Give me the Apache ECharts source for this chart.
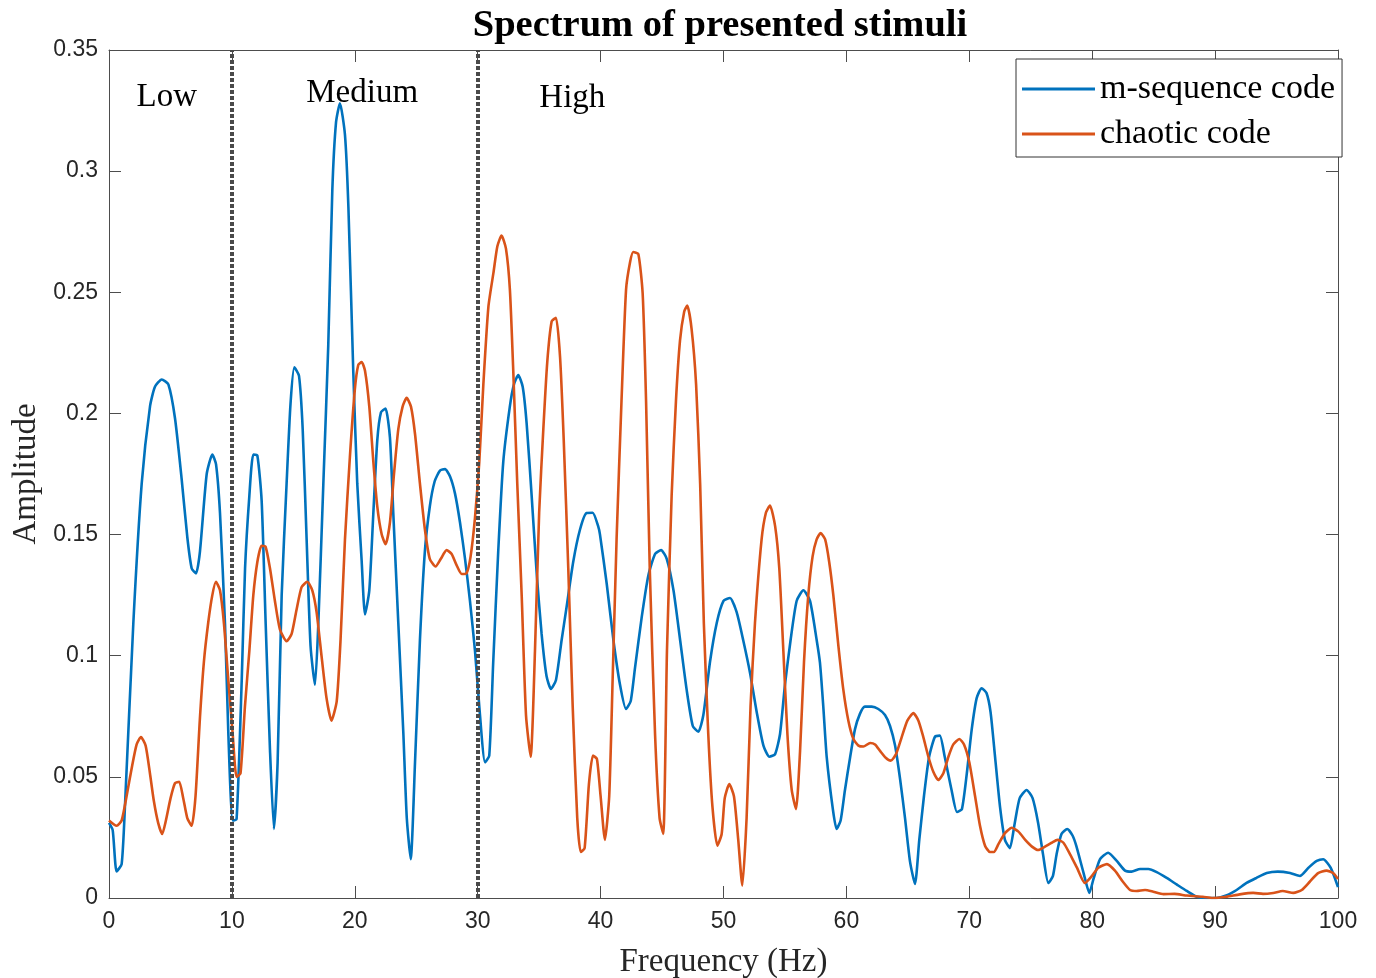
<!DOCTYPE html>
<html>
<head>
<meta charset="utf-8">
<title>Spectrum of presented stimuli</title>
<script src="https://cdn.jsdelivr.net/npm/echarts@6/dist/echarts.min.js"></script>
<style>
  html, body { margin: 0; padding: 0; background: #fff; }
  #chart { width: 1376px; height: 978px; }
</style>
</head>
<body>
<div id="chart"></div>
<script>
// m-sequence code
var freqM = [0, 0.3, 0.62, 1.03, 1.3, 1.98, 2.66, 3.34, 3.74, 4.29, 4.83, 5.37, 5.91, 6.37, 6.73, 7.08, 7.4, 7.95, 8.41, 8.71,
  9.03, 9.44, 9.71, 10.06, 10.38, 10.8, 11.07, 11.42, 11.74, 12.07, 12.42, 12.75, 13.1, 13.42, 13.72, 14.05, 14.45, 14.77, 15.08, 15.46,
  15.76, 16.08, 16.4, 16.76, 17.03, 17.44, 17.84, 18.17, 18.47, 18.79, 19.2, 19.48, 19.88, 20.2, 20.56, 20.83, 21.18, 21.51, 21.83, 22.13,
  22.5, 22.86, 23.13, 23.54, 23.95, 24.23, 24.55, 24.9, 25.3, 25.7, 26.1, 26.5, 26.93, 27.34, 27.75, 28.15, 28.56, 28.97, 29.37, 29.78,
  30.13, 30.6, 30.94, 31.26, 31.67, 32.08, 32.62, 32.95, 33.3, 33.66, 33.98, 34.39, 34.8, 35.2, 35.6, 35.96, 36.37, 36.83, 37.23, 37.77,
  38.32, 38.86, 39.35, 39.8, 39.95, 40.5, 41.04, 41.58, 42.07, 42.45, 42.8, 43.34, 43.88, 44.43, 44.92, 45.38, 45.93, 46.47, 47.0, 47.5,
  47.95, 48.36, 48.9, 49.45, 50, 50.53, 51.07, 51.6, 52.16, 52.7, 53.25, 53.74, 54.2, 54.6, 55.0, 55.46, 55.95, 56.5, 57.04, 57.58,
  57.85, 58.12, 58.4, 58.9, 59.2, 59.53, 59.88, 60.3, 60.7, 61.1, 61.5, 62.06, 62.6, 63.14, 63.55, 63.96, 64.37, 64.77, 65.18, 65.58,
  65.93, 66.31, 66.72, 67.2, 67.6, 68.0, 68.56, 69.0, 69.4, 69.8, 70.2, 70.6, 71.0, 71.4, 71.73, 72.1, 72.5, 72.9, 73.3, 73.7,
  74.1, 74.66, 75.15, 75.6, 76.0, 76.43, 76.8, 77.1, 77.5, 77.97, 78.4, 78.7, 79.3, 79.77, 80.1, 80.64, 81.3, 82.0, 82.67, 83.2,
  83.9, 84.57, 85.25, 86.06, 86.87, 87.69, 88.5, 89.3, 90.1, 90.9, 91.75, 92.56, 93.37, 94.2, 95.1, 96.1, 96.9, 97.6, 98.27, 98.8,
  99.4, 100];
var ampM = [0.031, 0.028, 0.011, 0.014, 0.038, 0.1135, 0.171, 0.203, 0.211, 0.214, 0.212, 0.198, 0.173, 0.149, 0.136, 0.134, 0.143, 0.175, 0.183, 0.179,
  0.159, 0.113, 0.068, 0.032, 0.0325, 0.09, 0.136, 0.166, 0.183, 0.1826, 0.164, 0.113, 0.061, 0.0285, 0.056, 0.125, 0.171, 0.204, 0.219, 0.2155,
  0.1935, 0.148, 0.104, 0.088, 0.113, 0.171, 0.228, 0.292, 0.32, 0.328, 0.315, 0.285, 0.2167, 0.171, 0.139, 0.117, 0.127, 0.159, 0.189, 0.2005,
  0.202, 0.19, 0.159, 0.1135, 0.068, 0.033, 0.016, 0.056, 0.1065, 0.143, 0.1615, 0.172, 0.1764, 0.177, 0.174, 0.167, 0.155, 0.14, 0.1226, 0.102,
  0.079, 0.056, 0.0588, 0.097, 0.143, 0.18, 0.203, 0.212, 0.2158, 0.211, 0.196, 0.166, 0.134, 0.109, 0.0916, 0.0863, 0.09, 0.1065, 0.12, 0.1387,
  0.152, 0.1589, 0.159, 0.1535, 0.15, 0.1296, 0.1065, 0.088, 0.078, 0.0813, 0.095, 0.1157, 0.133, 0.142, 0.1436, 0.14, 0.127, 0.1065, 0.086, 0.071,
  0.0686, 0.0755, 0.0974, 0.1135, 0.1226, 0.1238, 0.118, 0.1065, 0.0929, 0.0768, 0.0629, 0.0583, 0.0594, 0.0677, 0.088, 0.1065, 0.1226, 0.127, 0.1226, 0.1065,
  0.097, 0.079, 0.058, 0.0366, 0.0285, 0.032, 0.0445, 0.058, 0.0697, 0.076, 0.079, 0.079, 0.078, 0.0755, 0.071, 0.0629, 0.049, 0.033, 0.0149, 0.0058,
  0.024, 0.042, 0.058, 0.0665, 0.067, 0.0583, 0.0445, 0.0355, 0.0367, 0.0515, 0.0697, 0.0825, 0.0866, 0.0846, 0.0767, 0.058, 0.0376, 0.024, 0.0206, 0.031,
  0.0412, 0.0446, 0.0412, 0.031, 0.018, 0.0062, 0.009, 0.018, 0.0264, 0.0285, 0.0258, 0.0216, 0.0103, 0.0021, 0.0078, 0.016, 0.0187, 0.0153, 0.0113, 0.0109,
  0.012, 0.012, 0.0107, 0.0083, 0.0056, 0.0029, 0.0005, 0, 0, 0.001, 0.0033, 0.0062, 0.0083, 0.0103, 0.0109, 0.0103, 0.0091, 0.0125, 0.0153, 0.016,
  0.0125, 0.0045];

// chaotic code
var freqC = [0, 0.62, 1.03, 1.43, 1.85, 2.25, 2.6, 2.98, 3.33, 3.65, 4.0, 4.33, 4.63, 5.01, 5.37, 5.71, 6.04, 6.37, 6.73, 7.04,
  7.4, 7.72, 8.07, 8.4, 8.7, 9.03, 9.35, 9.7, 10.06, 10.38, 10.7, 11.06, 11.42, 11.74, 12.07, 12.41, 12.74, 13.1, 13.5, 13.9,
  14.45, 14.86, 15.26, 15.67, 16.13, 16.54, 16.89, 17.3, 17.7, 18.1, 18.53, 18.84, 19.2, 19.6, 20.0, 20.28, 20.56, 20.83, 21.18, 21.51,
  21.83, 22.19, 22.51, 22.86, 23.19, 23.54, 23.89, 24.22, 24.57, 24.9, 25.3, 25.7, 26.1, 26.57, 27.0, 27.47, 27.88, 28.28, 28.7, 29.1,
  29.42, 29.78, 30.13, 30.46, 30.87, 31.28, 31.6, 31.94, 32.3, 32.62, 32.9, 33.22, 33.58, 33.93, 34.31, 34.66, 35.0, 35.34, 35.66, 36.02,
  36.37, 36.7, 37.0, 37.37, 37.73, 38.1, 38.38, 38.7, 39.05, 39.38, 39.7, 40.0, 40.35, 40.7, 40.98, 41.3, 41.7, 42.07, 42.4, 42.66,
  43.07, 43.42, 43.7, 44.0, 44.43, 44.8, 45.1, 45.4, 45.78, 46.13, 46.46, 46.8, 47.05, 47.4, 47.77, 48.1, 48.4, 48.76, 49.1, 49.5,
  49.85, 50.1, 50.47, 50.85, 51.2, 51.53, 51.88, 52.2, 52.56, 53.1, 53.45, 53.78, 54.2, 54.54, 54.87, 55.2, 55.55, 55.9, 56.23, 56.55,
  56.9, 57.25, 57.58, 57.9, 58.27, 58.6, 58.94, 59.35, 59.75, 60.16, 60.57, 60.98, 61.38, 61.93, 62.33, 62.74, 63.2, 63.61, 64.04, 64.5,
  64.96, 65.45, 65.86, 66.26, 66.67, 67.08, 67.48, 67.89, 68.3, 68.7, 69.19, 69.57, 70.0, 70.46, 70.87, 71.28, 71.68, 72.0, 72.37, 72.9,
  73.46, 74.0, 74.55, 75.1, 75.6, 76.16, 76.7, 77.17, 77.66, 78.2, 78.76, 79.4, 79.96, 80.5, 81.2, 81.85, 82.5, 83.08, 83.6, 84.3,
  84.97, 85.8, 86.7, 87.7, 89.0, 89.8, 90.9, 92.0, 93.1, 93.9, 94.73, 95.5, 96.37, 97.05, 97.7, 98.38, 99.06, 99.6, 100];
var ampC = [0.032, 0.0298, 0.032, 0.042, 0.0537, 0.0634, 0.0664, 0.0629, 0.0515, 0.04, 0.031, 0.0264, 0.032, 0.0412, 0.0474, 0.048, 0.0412, 0.033, 0.0298, 0.042,
  0.0744, 0.0974, 0.1135, 0.1248, 0.1305, 0.127, 0.1135, 0.0904, 0.068, 0.05, 0.0515, 0.079, 0.102, 0.1248, 0.1387, 0.1454, 0.145, 0.136, 0.1226, 0.111,
  0.106, 0.109, 0.119, 0.1283, 0.1305, 0.127, 0.118, 0.0996, 0.0825, 0.0732, 0.0813, 0.1065, 0.148, 0.182, 0.2097, 0.22, 0.2212, 0.2176, 0.2028, 0.18,
  0.1615, 0.15, 0.146, 0.155, 0.175, 0.1935, 0.2028, 0.2064, 0.2028, 0.1915, 0.171, 0.1523, 0.14, 0.1368, 0.14, 0.1436, 0.142, 0.1374, 0.1337, 0.1341,
  0.1409, 0.157, 0.18, 0.212, 0.244, 0.258, 0.269, 0.2734, 0.268, 0.251, 0.2167, 0.171, 0.1248, 0.0755, 0.0583, 0.102, 0.159, 0.1935, 0.2212, 0.238,
  0.2395, 0.2234, 0.189, 0.136, 0.079, 0.033, 0.019, 0.0206, 0.047, 0.0588, 0.0574, 0.042, 0.024, 0.042, 0.0904, 0.148, 0.205, 0.251, 0.2625, 0.2666,
  0.2658, 0.2497, 0.205, 0.136, 0.0677, 0.033, 0.0264, 0.102, 0.166, 0.205, 0.23, 0.242, 0.2445, 0.235, 0.212, 0.171, 0.1135, 0.0677, 0.0377, 0.0216,
  0.0264, 0.0412, 0.047, 0.042, 0.024, 0.0051, 0.033, 0.079, 0.1135, 0.148, 0.159, 0.162, 0.1535, 0.136, 0.102, 0.0677, 0.0446, 0.0367, 0.0607, 0.0974,
  0.125, 0.141, 0.148, 0.1506, 0.148, 0.1387, 0.1248, 0.104, 0.086, 0.0732, 0.0656, 0.0629, 0.0625, 0.064, 0.0634, 0.0607, 0.0579, 0.0567, 0.0594, 0.0664,
  0.0732, 0.0763, 0.0732, 0.0664, 0.0583, 0.052, 0.0487, 0.0515, 0.0583, 0.0634, 0.0656, 0.0634, 0.056, 0.0423, 0.0298, 0.0216, 0.019, 0.019, 0.0222, 0.0268,
  0.029, 0.0274, 0.024, 0.0212, 0.0198, 0.0212, 0.0228, 0.024, 0.0228, 0.018, 0.0125, 0.0062, 0.009, 0.0125, 0.014, 0.0113, 0.0067, 0.0033, 0.0029, 0.0033,
  0.0026, 0.0016, 0.0017, 0.001, 0.0005, 0, 0.0005, 0.0015, 0.0021, 0.0017, 0.0021, 0.0029, 0.0021, 0.0033, 0.0067, 0.0103, 0.0113, 0.0103, 0.0078];

var bandEdges = [10, 30];
var bandNames = ['Low', 'Medium', 'High'];
var bandLabelX = [4.7, 20.6, 37.7];
var bandLabelY = [0.3305, 0.332, 0.33];

var seriesNames = ['m-sequence code', 'chaotic code'];

function pairs(xs, ys) {
  return xs.map(function (x, i) { return [x, ys[i]]; });
}

var serif = '"Liberation Serif", "Times New Roman", serif';
var sans = '"Liberation Sans", Arial, sans-serif';
var axisColor = '#4d4d4d';

function xAx(pos, extra) {
  return Object.assign({
    type: 'value', min: 0, max: 100, interval: 10, position: pos,
    axisLine: { show: true, onZero: false, lineStyle: { color: axisColor, width: 1 } },
    axisTick: { show: true, inside: true, length: 12, lineStyle: { color: axisColor } },
    splitLine: { show: false }
  }, extra);
}
function yAx(pos, extra) {
  return Object.assign({
    type: 'value', min: 0, max: 0.35, interval: 0.05, position: pos,
    axisLine: { show: true, onZero: false, lineStyle: { color: axisColor, width: 1 } },
    axisTick: { show: true, inside: true, length: 12, lineStyle: { color: axisColor } },
    splitLine: { show: false }
  }, extra);
}

var chart = echarts.init(document.getElementById('chart'));

var option = {
  animation: false,
  backgroundColor: '#fff',
  title: {
    text: 'Spectrum of presented stimuli',
    left: 715,
    textAlign: 'center',
    top: 2,
    textStyle: { fontFamily: serif, fontSize: 38.5, fontWeight: 'bold', color: '#000' }
  },
  legend: {
    data: seriesNames,
    orient: 'vertical',
    left: 1016,
    top: 59,
    icon: 'rect',
    itemWidth: 73,
    itemHeight: 3,
    itemGap: 11,
    padding: [13, 7, 6, 6],
    borderColor: '#333',
    borderWidth: 1,
    backgroundColor: '#fff',
    textStyle: { fontFamily: serif, fontSize: 34, color: '#000' }
  },
  grid: { left: 109, right: 38, top: 50, bottom: 80, containLabel: false, outerBoundsMode: 'none' },
  xAxis: [
    xAx('bottom', {
      name: 'Frequency (Hz)',
      nameLocation: 'middle',
      nameGap: 48,
      nameTextStyle: { fontFamily: serif, fontSize: 33, color: '#262626' },
      axisLabel: { fontFamily: sans, fontSize: 23, color: '#262626', margin: 12 }
    }),
    xAx('top', { axisLabel: { show: false } })
  ],
  yAxis: [
    yAx('left', {
      name: 'Amplitude',
      nameLocation: 'middle',
      nameGap: 58,
      nameTextStyle: { fontFamily: serif, fontSize: 33, color: '#262626' },
      axisLabel: { fontFamily: sans, fontSize: 23, color: '#262626', margin: 11 }
    }),
    yAx('right', { axisLabel: { show: false } })
  ],
  series: [
    {
      name: seriesNames[0],
      type: 'line',
      data: pairs(freqM, ampM),
      showSymbol: false,
      smooth: 0.2,
      color: '#0072BD',
      lineStyle: { width: 2.6, color: '#0072BD' },
      z: 2
    },
    {
      name: seriesNames[1],
      type: 'line',
      data: pairs(freqC, ampC),
      showSymbol: false,
      smooth: 0.2,
      color: '#D95319',
      lineStyle: { width: 2.6, color: '#D95319' },
      z: 3
    },
    {
      name: 'bands',
      type: 'line',
      data: [],
      z: 4,
      markLine: {
        silent: true,
        symbol: 'none',
        label: { show: false },
        lineStyle: { color: '#4a4a4a', width: 4, type: [4, 2] },
        data: bandEdges.map(function (x) { return { xAxis: x }; })
      }
    },
    {
      name: 'bandLabels',
      type: 'scatter',
      symbolSize: 0,
      z: 5,
      itemStyle: { opacity: 1 },
      data: bandNames.map(function (n, i) { return { name: n, value: [bandLabelX[i], bandLabelY[i]] }; }),
      label: {
        show: true,
        position: 'inside',
        formatter: '{b}',
        fontFamily: serif,
        fontSize: 33,
        color: '#000',
        opacity: 1,
        textBorderWidth: 0
      }
    }
  ]
};

chart.setOption(option);
</script>
</body>
</html>
